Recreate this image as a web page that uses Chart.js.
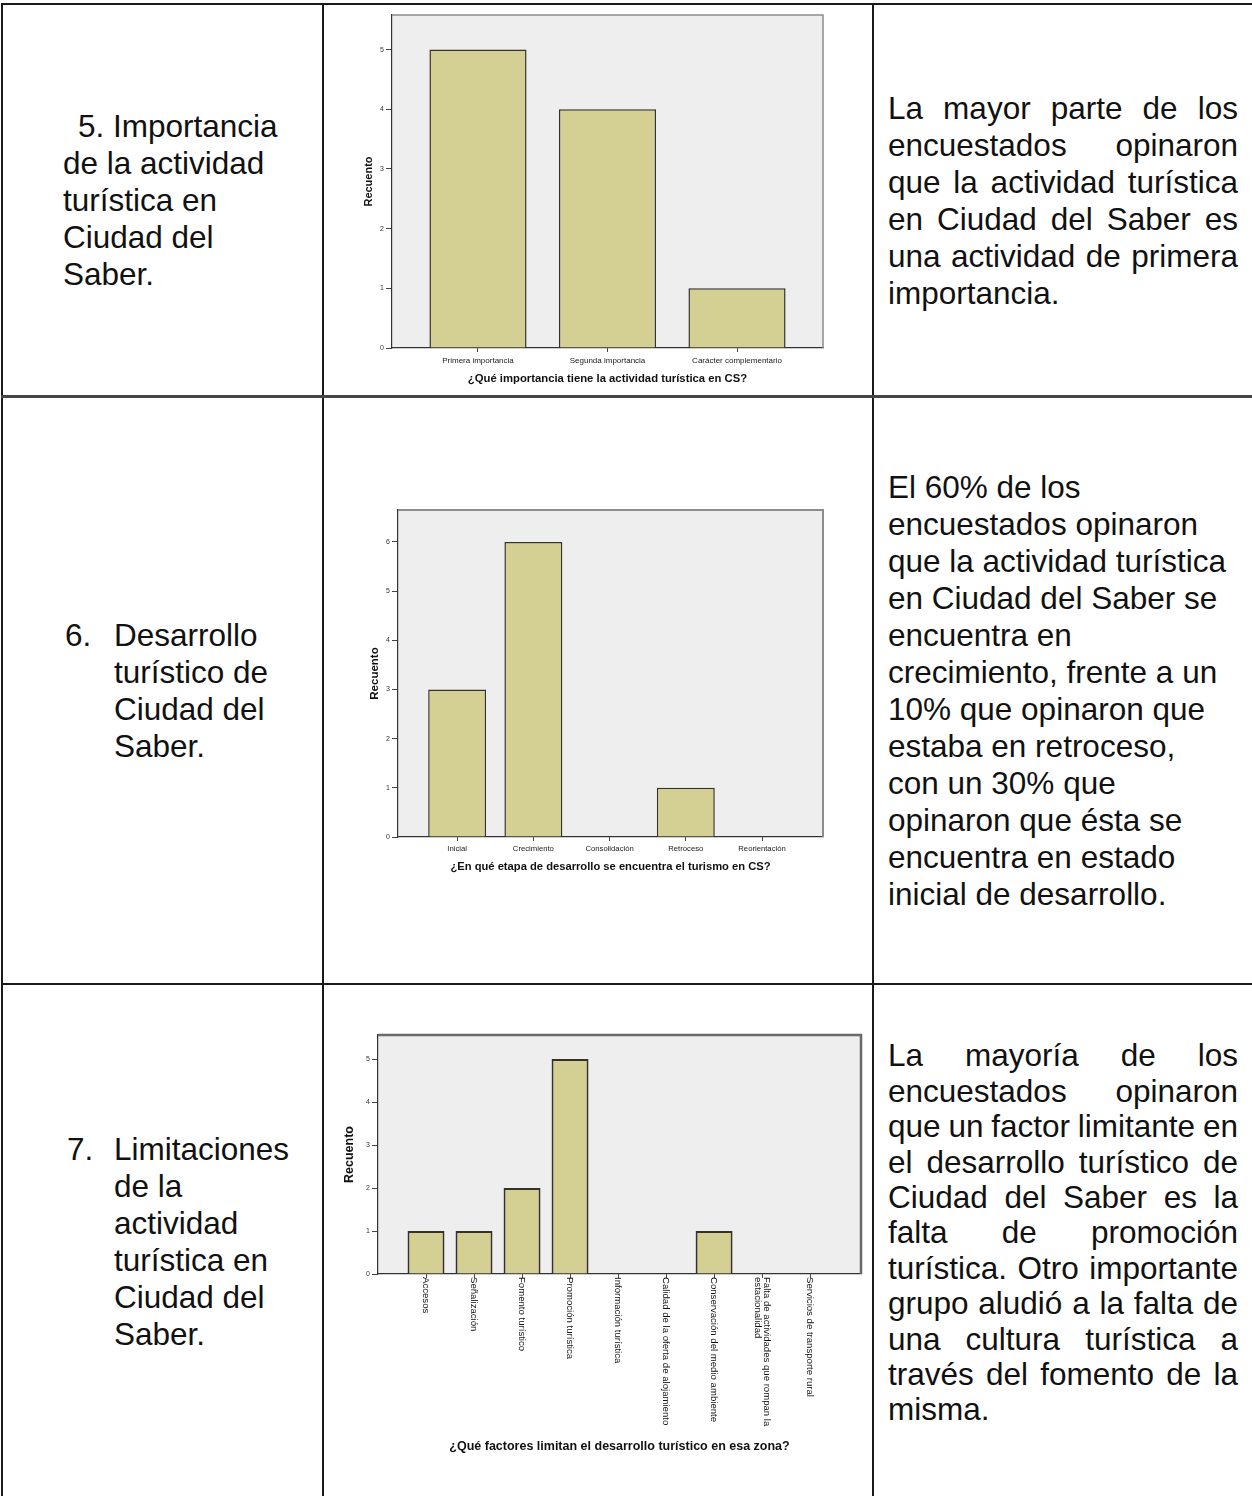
<!DOCTYPE html>
<html lang="es">
<head>
<meta charset="utf-8">
<title>Actividad turística en Ciudad del Saber</title>
<script src="https://cdn.jsdelivr.net/npm/chart.js@4.4.1/dist/chart.umd.min.js"></script>
<style>
  html, body { margin: 0; padding: 0; background: #fff; }
  #page { position: relative; width: 1252px; height: 1496px; overflow: hidden;
          font-family: 'Liberation Sans', Arial, sans-serif; color: #111; }
  .ln { position: absolute; background: #1a1a1a; }
  .txt { position: absolute; font-size: 31.5px; line-height: 37px; }
  .txt div { white-space: nowrap; position: relative; }
  .num { position: absolute; }
  .j { width: 350px; }
  .j div { text-align: justify; text-align-last: justify; }
  .j div.end { text-align-last: left; }
  .tight { word-spacing: -2px; }
  canvas { position: absolute; }
</style>
</head>
<body>
<div id="page">
  <!-- table rules -->
  <div class="ln" style="left:1px;top:3px;width:1251px;height:2px"></div>
  <div class="ln" style="left:1px;top:3px;width:2px;height:1493px"></div>
  <div class="ln" style="left:322px;top:3px;width:2px;height:1493px"></div>
  <div class="ln" style="left:872px;top:3px;width:2px;height:1493px"></div>
  <div class="ln" style="left:1px;top:395px;width:1251px;height:3px;background:#454545"></div>
  <div class="ln" style="left:1px;top:983px;width:1251px;height:2px"></div>

  <!-- row 5 -->
  <div class="txt" style="left:63px;top:107.5px">
    <div style="padding-left:15px">5. Importancia</div>
    <div>de la actividad</div>
    <div>turística en</div>
    <div>Ciudad del</div>
    <div>Saber.</div>
  </div>
  <div class="txt j" style="left:888px;top:89.5px">
    <div>La mayor parte de los</div>
    <div>encuestados opinaron</div>
    <div>que la actividad turística</div>
    <div>en Ciudad del Saber es</div>
    <div>una actividad de primera</div>
    <div class="end">importancia.</div>
  </div>

  <!-- row 6 -->
  <div class="txt" style="left:114px;top:616.5px">
    <div><span class="num" style="left:-49px">6.</span>Desarrollo</div>
    <div>turístico de</div>
    <div>Ciudad del</div>
    <div>Saber.</div>
  </div>
  <div class="txt" style="left:888px;top:468.5px">
    <div>El 60% de los</div>
    <div>encuestados opinaron</div>
    <div>que la actividad turística</div>
    <div>en Ciudad del Saber se</div>
    <div>encuentra en</div>
    <div>crecimiento, frente a un</div>
    <div>10% que opinaron que</div>
    <div>estaba en retroceso,</div>
    <div>con un 30% que</div>
    <div>opinaron que ésta se</div>
    <div>encuentra en estado</div>
    <div>inicial de desarrollo.</div>
  </div>

  <!-- row 7 -->
  <div class="txt" style="left:114px;top:1130.5px">
    <div><span class="num" style="left:-47px">7.</span>Limitaciones</div>
    <div>de la</div>
    <div>actividad</div>
    <div>turística en</div>
    <div>Ciudad del</div>
    <div>Saber.</div>
  </div>
  <div class="txt j" style="left:888px;top:1038.4px;line-height:35.4px">
    <div>La mayoría de los</div>
    <div>encuestados opinaron</div>
    <div class="tight">que un factor limitante en</div>
    <div>el desarrollo turístico de</div>
    <div>Ciudad del Saber es la</div>
    <div>falta de promoción</div>
    <div class="tight">turística. Otro importante</div>
    <div>grupo aludió a la falta de</div>
    <div>una cultura turística a</div>
    <div>través del fomento de la</div>
    <div class="end">misma.</div>
  </div>

  <canvas id="c1" width="520" height="384" style="left:340px;top:8px"></canvas>
  <canvas id="c2" width="520" height="400" style="left:340px;top:490px"></canvas>
  <canvas id="c3" width="530" height="471" style="left:340px;top:1025px"></canvas>
</div>

<script>
// datos
const importanciaCats = ['Primera importancia', 'Segunda importancia', 'Carácter complementario'];
const importanciaVals = [5, 4, 1];
const importanciaTicks = [0, 1, 2, 3, 4, 5];

const etapaCats = ['Inicial', 'Crecimiento', 'Consolidación', 'Retroceso', 'Reorientación'];
const etapaVals = [3, 6, 0, 1, 0];
const etapaTicks = [0, 1, 2, 3, 4, 5, 6];

const factoresCats = ['Accesos', 'Señalización', 'Fomento turístico', 'Promoción turística',
  'Información turística', 'Calidad de la oferta de alojamiento',
  'Conservación del medio ambiente',
  ['Falta de actividades que rompan la', 'estacionalidad'],
  'Servicios de transporte rural'];
const factoresVals = [1, 1, 2, 5, 0, 0, 1, 0, 0];
const factoresTicks = [0, 1, 2, 3, 4, 5];

const FONT = "'Liberation Sans', Arial, sans-serif";
const BAR = '#d4d093';
const EDGE = '#33332a';

// fondo gris y marco del area de trazado (estilo SPSS)
const framePlugin = {
  id: 'frame',
  beforeDraw(chart, args, o) {
    const { ctx, chartArea: a } = chart;
    ctx.save();
    ctx.fillStyle = o.bg;
    ctx.fillRect(a.left, a.top, a.right - a.left, a.bottom - a.top);
    ctx.restore();
  },
  afterDatasetsDraw(chart, args, o) {
    const { ctx, chartArea: a } = chart;
    ctx.save();
    ctx.strokeStyle = o.color;
    ctx.lineWidth = o.width;
    ctx.beginPath();
    ctx.moveTo(a.left, a.top);
    ctx.lineTo(a.right, a.top);
    ctx.lineTo(a.right, a.bottom);
    ctx.stroke();
    ctx.restore();
  }
};

// etiquetas verticales (leidas de arriba hacia abajo)
function sideLabels(labels) {
  return {
    id: 'sideLabels',
    afterDraw(chart) {
      const x = chart.scales.x, ctx = chart.ctx;
      ctx.save();
      ctx.font = '9.6px ' + FONT;
      ctx.fillStyle = '#111';
      ctx.textAlign = 'left';
      ctx.textBaseline = 'middle';
      labels.forEach((lab, i) => {
        const lines = [].concat(lab);
        ctx.save();
        ctx.translate(x.getPixelForValue(i), x.top + 3);
        ctx.rotate(Math.PI / 2);
        lines.forEach((t, j) => ctx.fillText(t, 0, (j - (lines.length - 1) / 2) * 9.5));
        ctx.restore();
      });
      ctx.restore();
    }
  };
}

function barChart(id, cats, vals, yTicks, xTitle, g) {
  const extra = g.rotated ? [sideLabels(cats)] : [];
  return new Chart(document.getElementById(id), {
    type: 'bar',
    data: {
      datasets: [{
        data: vals.map((v, i) => ({ x: i, y: v })),
        backgroundColor: BAR,
        borderColor: EDGE,
        borderWidth: g.edge,
        borderSkipped: 'start',
        categoryPercentage: 1,
        barPercentage: g.bar
      }]
    },
    options: {
      responsive: false,
      animation: false,
      events: [],
      layout: { padding: { top: g.padTop, right: g.padRight, left: 0, bottom: 0 } },
      plugins: {
        legend: { display: false },
        tooltip: { enabled: false },
        frame: g.frame
      },
      scales: {
        x: {
          type: 'linear',
          min: g.xMin,
          max: g.xMax,
          offset: false,
          afterBuildTicks: s => { s.ticks = cats.map((c, i) => ({ value: i })); },
          afterFit: s => { s.height = g.xH; },
          grid: { offset: false, drawOnChartArea: false, drawTicks: true, tickLength: 4, color: '#444' },
          border: { color: '#333', width: 1.2 },
          ticks: {
            display: !g.rotated, autoSkip: false, maxRotation: 0, minRotation: 0,
            padding: g.xTickPad, color: '#1a1a1a',
            font: { size: g.tickSize, family: FONT },
            callback: v => cats[v]
          },
          title: {
            display: true, text: xTitle, color: '#111',
            font: { size: g.xTitleSize, weight: 'bold', family: FONT },
            padding: { top: 0, bottom: g.xTitlePad }
          }
        },
        y: {
          min: 0,
          max: g.yMax,
          afterBuildTicks: s => { s.ticks = yTicks.map(v => ({ value: v })); },
          afterFit: s => { s.width = g.yW; },
          grid: { drawOnChartArea: false, drawTicks: true, tickLength: 6, color: '#444' },
          border: { color: '#333', width: 1.2 },
          ticks: { padding: 2, color: '#333', font: { size: 7, family: FONT } },
          title: {
            display: true, text: 'Recuento', color: '#111',
            font: { size: g.yTitleSize, weight: 'bold', family: FONT },
            padding: { top: g.yTitlePad, bottom: 0 }
          }
        }
      }
    },
    plugins: [framePlugin, ...extra]
  });
}

barChart('c1', importanciaCats, importanciaVals, importanciaTicks,
  '¿Qué importancia tiene la actividad turística en CS?', {
    yW: 52, xH: 44, padTop: 7, padRight: 37,
    xMin: -0.664, xMax: 2.664, yMax: 5.58, bar: 0.75, edge: 1.5,
    tickSize: 8, xTickPad: 4, xTitleSize: 11.3, xTitlePad: 6,
    yTitleSize: 11, yTitlePad: 22,
    frame: { bg: '#eeeeee', color: '#8c8c8c', width: 1.5 }
  });

barChart('c2', etapaCats, etapaVals, etapaTicks,
  '¿En qué etapa de desarrollo se encuentra el turismo en CS?', {
    yW: 58, xH: 53, padTop: 20, padRight: 37,
    xMin: -0.776, xMax: 4.80, yMax: 6.65, bar: 0.76, edge: 1.5,
    tickSize: 7.7, xTickPad: 3, xTitleSize: 11.2, xTitlePad: 16,
    yTitleSize: 11.5, yTitlePad: 28,
    frame: { bg: '#eeeeee', color: '#8c8c8c', width: 2 }
  });

barChart('c3', factoresCats, factoresVals, factoresTicks,
  '¿Qué factores limitan el desarrollo turístico en esa zona?', {
    yW: 38, xH: 222, padTop: 10, padRight: 9,
    xMin: -1.0, xMax: 9.06, yMax: 5.56, bar: 0.77, edge: 2,
    tickSize: 9, xTickPad: 3, xTitleSize: 12.5, xTitlePad: 42,
    yTitleSize: 12.5, yTitlePad: 2, rotated: true,
    frame: { bg: '#eeeeee', color: '#6a6a6a', width: 2.5 }
  });
</script>
</body>
</html>
